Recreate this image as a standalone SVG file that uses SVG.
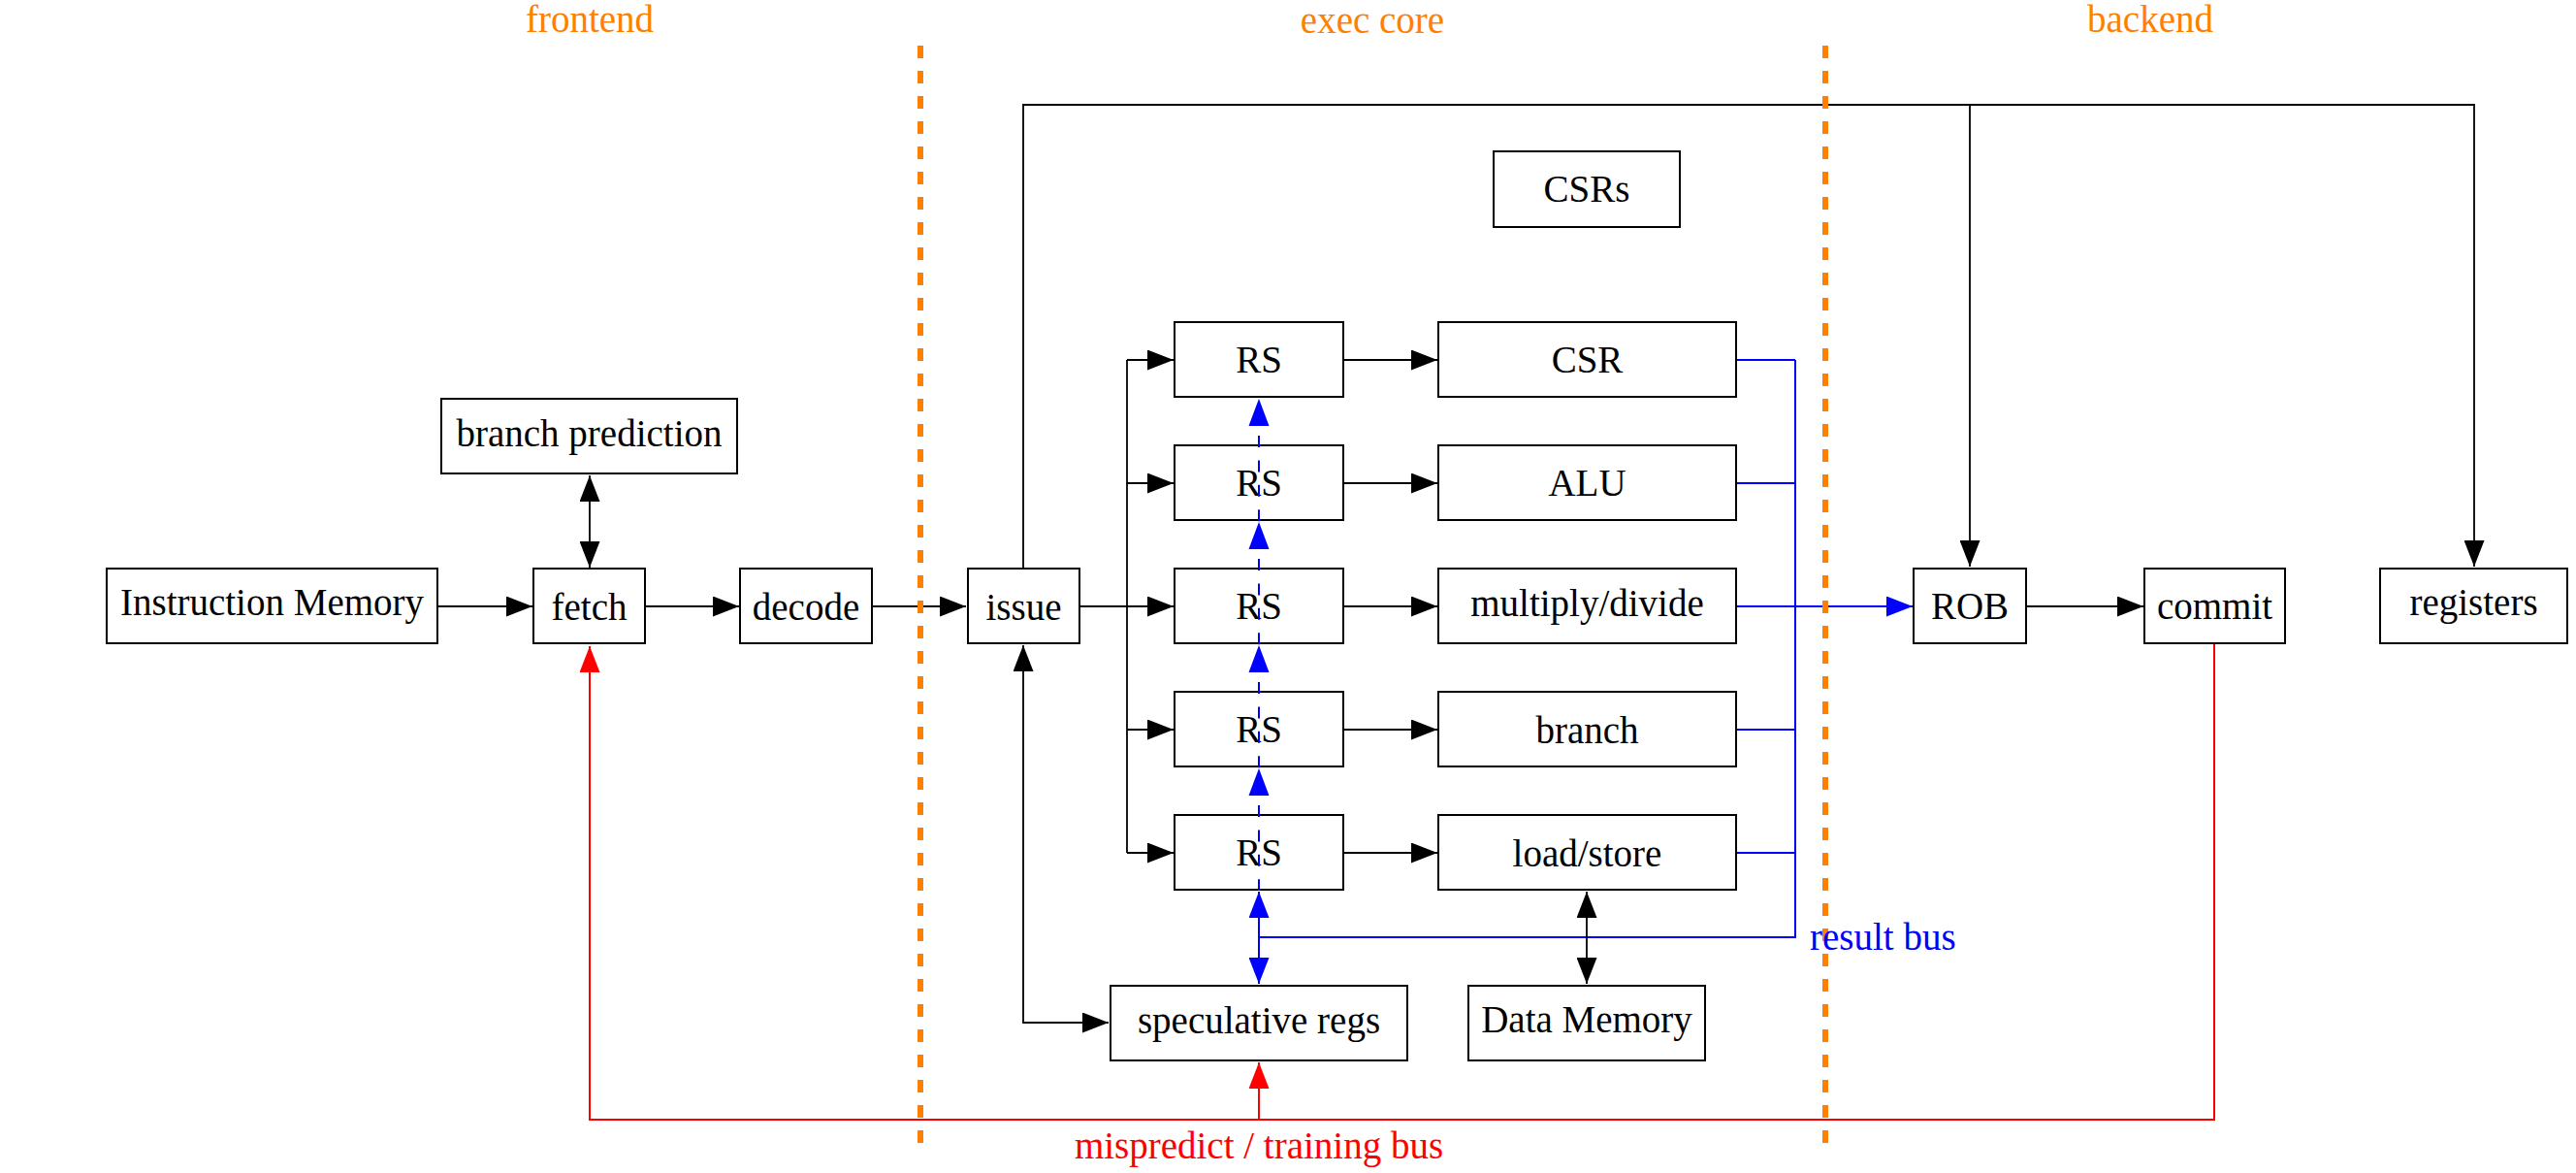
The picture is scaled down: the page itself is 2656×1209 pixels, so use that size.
<svg xmlns="http://www.w3.org/2000/svg" width="2656" height="1209" viewBox="0 0 2656 1209">
<style>
text{font-family:"Liberation Serif","Times New Roman",serif;font-size:39px;text-anchor:middle}
.box{fill:#fff;stroke:#000;stroke-width:2}
.k{fill:none;stroke:#000;stroke-width:1.8}
.b{fill:none;stroke:#0000ff;stroke-width:2}
.r{fill:none;stroke:#ff0000;stroke-width:2}
.bd{fill:none;stroke:#0000ff;stroke-width:2;stroke-dasharray:12 13.4}
.div{fill:none;stroke:#ff8000;stroke-width:6;stroke-dasharray:13 13}
</style>
<defs>
<marker id="ak" markerUnits="userSpaceOnUse" markerWidth="27" markerHeight="21" refX="27" refY="10.5" orient="auto-start-reverse"><path d="M0,0 L27,10.5 L0,21 z" fill="#000"/></marker>
<marker id="ab" markerUnits="userSpaceOnUse" markerWidth="27" markerHeight="21" refX="27" refY="10.5" orient="auto-start-reverse"><path d="M0,0 L27,10.5 L0,21 z" fill="#0000ff"/></marker>
<marker id="ar" markerUnits="userSpaceOnUse" markerWidth="27" markerHeight="21" refX="27" refY="10.5" orient="auto-start-reverse"><path d="M0,0 L27,10.5 L0,21 z" fill="#ff0000"/></marker>
</defs>
<rect width="2656" height="1209" fill="#fff"/>

<g id="connectors">
<path class="k" d="M451,625 H549" marker-end="url(#ak)"/>
<path class="k" d="M665,625 H762" marker-end="url(#ak)"/>
<path class="k" d="M899,625 H996" marker-end="url(#ak)"/>
<path class="k" d="M608,490 V585" marker-start="url(#ak)" marker-end="url(#ak)"/>
<path class="k" d="M1113,625 H1162"/>
<path class="k" d="M1162,371 V879"/>
<path class="k" d="M1162,371 H1210" marker-end="url(#ak)"/>
<path class="k" d="M1162,498 H1210" marker-end="url(#ak)"/>
<path class="k" d="M1162,625 H1210" marker-end="url(#ak)"/>
<path class="k" d="M1162,752 H1210" marker-end="url(#ak)"/>
<path class="k" d="M1162,879 H1210" marker-end="url(#ak)"/>
<path class="k" d="M1385,371 H1482" marker-end="url(#ak)"/>
<path class="k" d="M1385,498 H1482" marker-end="url(#ak)"/>
<path class="k" d="M1385,625 H1482" marker-end="url(#ak)"/>
<path class="k" d="M1385,752 H1482" marker-end="url(#ak)"/>
<path class="k" d="M1385,879 H1482" marker-end="url(#ak)"/>
<path class="b" d="M1790,371 H1851 M1790,498 H1851 M1790,752 H1851 M1790,879 H1851 M1851,371 V966 H1298"/>
<path class="b" d="M1790,625 H1972" marker-end="url(#ab)"/>
<path class="b" d="M1298,966 V919" marker-end="url(#ab)"/>
<path class="b" d="M1298,966 V1014" marker-end="url(#ab)"/>
<path class="k" d="M1636,919 V1014" marker-start="url(#ak)" marker-end="url(#ak)"/>
<path class="k" d="M1055,586 V108 H2551 V584" marker-end="url(#ak)"/>
<path class="k" d="M2031,108 V584" marker-end="url(#ak)"/>
<path class="k" d="M2089,625 H2210" marker-end="url(#ak)"/>
<path class="k" d="M1055,665 V1054 H1143" marker-start="url(#ak)" marker-end="url(#ak)"/>
<path class="r" d="M2283,663 V1154 H608 V666" marker-end="url(#ar)"/>
<path class="r" d="M1298,1154 V1095" marker-end="url(#ar)"/>
</g>

<g id="instruction-memory"><rect class="box" x="110" y="586" width="341" height="77"/><text x="280.5" y="634">Instruction Memory</text></g>
<g id="fetch"><rect class="box" x="550" y="586" width="115" height="77"/><text x="607.5" y="639">fetch</text></g>
<g id="decode"><rect class="box" x="763" y="586" width="136" height="77"/><text x="831" y="639">decode</text></g>
<g id="branch-prediction"><rect class="box" x="455" y="411" width="305" height="77"/><text x="607.5" y="460">branch prediction</text></g>
<g id="issue"><rect class="box" x="998" y="586" width="115" height="77"/><text x="1055.5" y="639">issue</text></g>
<g id="csrs"><rect class="box" x="1540" y="156" width="192" height="78"/><text x="1636" y="208">CSRs</text></g>
<g id="rs1"><rect class="box" x="1211" y="332" width="174" height="77"/><text x="1298" y="384">RS</text></g>
<g id="rs2"><rect class="box" x="1211" y="459" width="174" height="77"/><text x="1298" y="511">RS</text></g>
<g id="rs3"><rect class="box" x="1211" y="586" width="174" height="77"/><text x="1298" y="638">RS</text></g>
<g id="rs4"><rect class="box" x="1211" y="713" width="174" height="77"/><text x="1298" y="765">RS</text></g>
<g id="rs5"><rect class="box" x="1211" y="840" width="174" height="77"/><text x="1298" y="892">RS</text></g>
<g id="csr"><rect class="box" x="1483" y="332" width="307" height="77"/><text x="1636.5" y="384">CSR</text></g>
<g id="alu"><rect class="box" x="1483" y="459" width="307" height="77"/><text x="1636.5" y="511">ALU</text></g>
<g id="muldiv"><rect class="box" x="1483" y="586" width="307" height="77"/><text x="1636.5" y="635">multiply/divide</text></g>
<g id="branch"><rect class="box" x="1483" y="713" width="307" height="77"/><text x="1636.5" y="766">branch</text></g>
<g id="loadstore"><rect class="box" x="1483" y="840" width="307" height="77"/><text x="1636.5" y="893">load/store</text></g>
<g id="speculative-regs"><rect class="box" x="1145" y="1016" width="306" height="77"/><text x="1298" y="1065">speculative regs</text></g>
<g id="data-memory"><rect class="box" x="1514" y="1016" width="244" height="77"/><text x="1636" y="1064">Data Memory</text></g>
<g id="rob"><rect class="box" x="1973" y="586" width="116" height="77"/><text x="2031" y="638">ROB</text></g>
<g id="commit"><rect class="box" x="2211" y="586" width="145" height="77"/><text x="2283.5" y="638">commit</text></g>
<g id="registers"><rect class="box" x="2454" y="586" width="193" height="77"/><text x="2550.5" y="634">registers</text></g>

<g id="forwarding">
<path class="bd" d="M1298,449 V918"/>
<path d="M1298,411 L1308.5,439 L1287.5,439 z M1298,538 L1308.5,566 L1287.5,566 z M1298,665 L1308.5,693 L1287.5,693 z M1298,792 L1308.5,820 L1287.5,820 z" fill="#0000ff"/>
</g>

<g id="dividers">
<path class="div" d="M949,47 V1178"/>
<path class="div" d="M1882,47 V1178"/>
</g>

<g id="labels">
<text x="608" y="33" fill="#ff8000">frontend</text>
<text x="1415" y="34" fill="#ff8000">exec core</text>
<text x="2217" y="33" fill="#ff8000">backend</text>
<text x="1866" y="979" fill="#0000ff" style="text-anchor:start">result bus</text>
<text x="1298" y="1194" fill="#ff0000">mispredict / training bus</text>
</g>
</svg>
